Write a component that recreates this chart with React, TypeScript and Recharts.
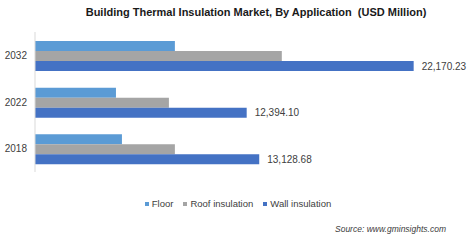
import React from 'react';
import { BarChart, Bar, XAxis, YAxis, Legend, LabelList } from 'recharts';

const years = ['2032', '2022', '2018'];
const floor = [8190, 4740, 5090];
const roof = [14450, 7840, 8190];
const wall = [22170.23, 12394.1, 13128.68];

const SERIES = [
    { key: 'floor', name: 'Floor', color: '#5B9BD5' },
    { key: 'roof', name: 'Roof insulation', color: '#A5A5A5' },
    { key: 'wall', name: 'Wall insulation', color: '#4472C4' },
];

const fmt = (v: number) =>
    v.toLocaleString('en-US', { minimumFractionDigits: 2, maximumFractionDigits: 2 });

const renderLegend = () => (
    <div style={{ display: 'flex', justifyContent: 'center', gap: 10, fontSize: 9.5, color: '#404040', fontFamily: 'Liberation Sans, Arial, sans-serif' }}>
        {SERIES.map((s) => (
            <span key={s.key} style={{ display: 'flex', alignItems: 'center' }}>
                <span style={{ width: 4, height: 4, background: s.color, marginRight: 3, display: 'inline-block' }} />
                {s.name}
            </span>
        ))}
    </div>
);

const App = () => {
    const data = years.map((y, i) => ({ year: y, floor: floor[i], roof: roof[i], wall: wall[i] }));

    return (
        <div style={{ position: 'absolute', left: 0, top: 0, width: 474, height: 245, background: '#fff', fontFamily: 'Liberation Sans, Arial, sans-serif' }}>
            <div style={{ position: 'absolute', left: 0, width: 512, top: 6, textAlign: 'center', fontWeight: 'bold', fontSize: 11, color: '#1a1a1a' }}>
                Building Thermal Insulation Market, By Application&nbsp; (USD Million)
            </div>
            <BarChart
                width={474}
                height={245}
                data={data}
                layout="vertical"
                margin={{ top: 32, right: 12, bottom: 62, left: 0 }}
                barCategoryGap={9}
                barGap={0}
            >
                <XAxis type="number" domain={[0, 25000]} hide />
                <YAxis
                    type="category"
                    dataKey="year"
                    width={35}
                    tickLine={false}
                    axisLine={{ stroke: '#D9D9D9' }}
                    tick={{ fontSize: 10, fill: '#404040' }}
                />
                <Legend content={renderLegend} wrapperStyle={{ top: 198, left: 0, width: 476 }} />
                {SERIES.map((s) => (
                    <Bar key={s.key} dataKey={s.key} name={s.name} fill={s.color} isAnimationActive={false}>
                        {s.key === 'wall' && (
                            <LabelList dataKey="wall" position="right" offset={8} formatter={(v: any) => fmt(Number(v))} style={{ fontSize: 10, fill: '#404040' }} />
                        )}
                    </Bar>
                ))}
            </BarChart>
            <div style={{ position: 'absolute', right: 28, top: 224, fontSize: 8.5, fontStyle: 'italic', color: '#404040' }}>
                Source: www.gminsights.com
            </div>
        </div>
    );
};

export default App;
